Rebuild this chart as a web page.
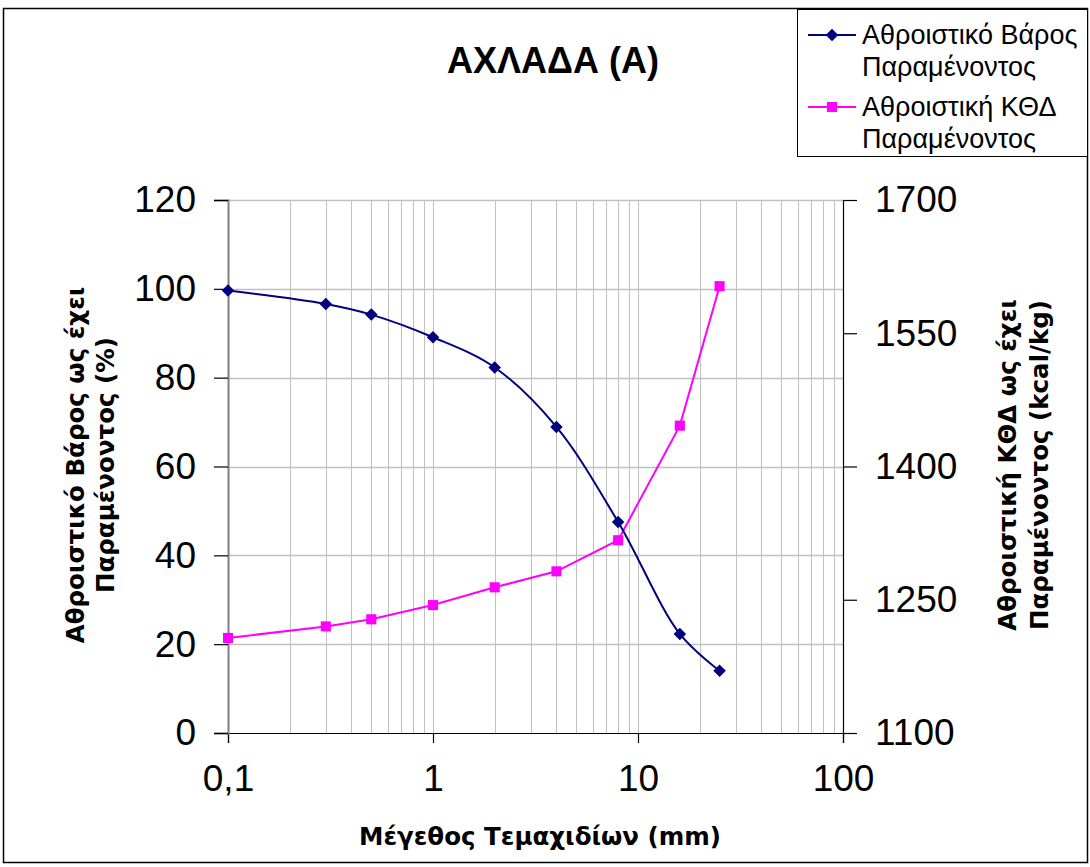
<!DOCTYPE html>
<html>
  <head>
    <meta charset="utf-8" />
    <title>ΑΧΛΑΔΑ (Α)</title>
    <style>
      body {
        margin: 0;
        background: #fff;
      }
      svg {
        display: block;
        font-family: Arial, "Liberation Sans", sans-serif;
      }
      .axis-title {
        font-family: "DejaVu Sans", Verdana, sans-serif;
        font-weight: bold;
        font-size: 24.5px;
      }
    </style>
  </head>

  <body>
    <svg id="chart"></svg>

    <script src="https://cdn.jsdelivr.net/npm/d3@7"></script>
    <script>
      // data
      const sizes = [0.1, 0.3, 0.5, 1, 2, 4, 8, 16, 25];
      const weight = [99.6, 96.6, 94.2, 89.1, 82.3, 68.9, 47.5, 22.3, 14.0];
      const heat = [1207, 1220, 1228, 1244, 1264, 1282, 1317, 1446, 1603];
      const xTicks = [0.1, 1, 10, 100];
      const xTickLabels = ["0,1", "1", "10", "100"];
      const leftTicks = [0, 20, 40, 60, 80, 100, 120];
      const rightTicks = [1100, 1250, 1400, 1550, 1700];
      const seriesNames = [
        ["Αθροιστικό Βάρος", "Παραμένοντος"],
        ["Αθροιστική ΚΘΔ", "Παραμένοντος"],
      ];

      const width = 1090;
      const height = 867;
      const blue = "#000080";
      const pink = "#ff00ff";
      const grid = "#c0c0c0";

      const plot = { left: 228, right: 843, top: 200, bottom: 733 };

      const svg = d3
        .select("#chart")
        .attr("width", width)
        .attr("height", height);

      svg
        .append("rect")
        .attr("x", 3.5)
        .attr("y", 8.5)
        .attr("width", 1084)
        .attr("height", 854)
        .attr("fill", "#fff")
        .attr("stroke", "#000")
        .attr("stroke-width", 1.5);

      const x = d3
        .scaleLog()
        .domain([0.1, 100])
        .range([plot.left, plot.right]);
      const yL = d3
        .scaleLinear()
        .domain([0, 120])
        .range([plot.bottom, plot.top]);
      const yR = d3
        .scaleLinear()
        .domain([1100, 1700])
        .range([plot.bottom, plot.top]);

      // minor + major vertical gridlines
      const vLines = [];
      for (let d = 0.1; d < 100; d *= 10) {
        for (let k = 1; k <= 10; k++) vLines.push(+(d * k).toPrecision(3));
      }
      svg
        .append("g")
        .selectAll("line")
        .data(vLines.filter((v) => v > 0.1 && v < 100))
        .join("line")
        .attr("x1", (d) => Math.round(x(d)) + 0.5)
        .attr("x2", (d) => Math.round(x(d)) + 0.5)
        .attr("y1", plot.top)
        .attr("y2", plot.bottom)
        .attr("stroke", grid)
        .attr("stroke-width", 1);

      svg
        .append("g")
        .selectAll("line")
        .data(leftTicks.filter((v) => v > 0))
        .join("line")
        .attr("x1", plot.left)
        .attr("x2", plot.right)
        .attr("y1", (d) => Math.round(yL(d)) + 0.5)
        .attr("y2", (d) => Math.round(yL(d)) + 0.5)
        .attr("stroke", grid)
        .attr("stroke-width", 1.5);

      // axes
      const axisLeft = d3
        .axisLeft(yL)
        .tickValues(leftTicks)
        .tickSize(14)
        .tickPadding(18)
        .tickFormat(d3.format("d"));
      const axisRight = d3
        .axisRight(yR)
        .tickValues(rightTicks)
        .tickSize(14)
        .tickPadding(18)
        .tickFormat(d3.format("d"));
      const axisBottom = d3
        .axisBottom(x)
        .tickValues(xTicks)
        .tickSize(10)
        .tickPadding(22)
        .tickFormat((d, i) => xTickLabels[i]);

      function styleAxis(g) {
        g.select(".domain").attr("stroke", "#808080").attr("stroke-width", 2);
        g.selectAll(".tick line").attr("stroke", "#000").attr("stroke-width", 1.2);
        g.selectAll(".tick text")
          .attr("fill", "#000")
          .attr("font-size", 37)
          .attr("font-family", "Arial, 'Liberation Sans', sans-serif");
      }

      svg
        .append("g")
        .attr("transform", `translate(0,${plot.bottom})`)
        .call(axisBottom)
        .call(styleAxis)
        .call((g) => g.select(".domain").attr("stroke", "#000").attr("stroke-width", 1.2));
      svg
        .append("g")
        .attr("transform", `translate(${plot.left},0)`)
        .call(axisLeft)
        .call(styleAxis);
      svg
        .append("g")
        .attr("transform", `translate(${plot.right},0)`)
        .call(axisRight)
        .call(styleAxis)
        .call((g) => g.select(".domain").attr("stroke", "#000").attr("stroke-width", 1.2));

      // series
      const weightLine = d3
        .line()
        .x((d, i) => x(sizes[i]))
        .y((d) => yL(d))
        .curve(d3.curveCatmullRom);
      const heatLine = d3
        .line()
        .x((d, i) => x(sizes[i]))
        .y((d) => yR(d));

      svg
        .append("path")
        .attr("d", heatLine(heat))
        .attr("fill", "none")
        .attr("stroke", pink)
        .attr("stroke-width", 2);
      svg
        .append("path")
        .attr("d", weightLine(weight))
        .attr("fill", "none")
        .attr("stroke", blue)
        .attr("stroke-width", 2);

      const diamond = d3.symbol().type(d3.symbolDiamond2).size(100);
      const square = d3.symbol().type(d3.symbolSquare2).size(130);

      svg
        .append("g")
        .selectAll("path")
        .data(weight)
        .join("path")
        .attr("transform", (d, i) => `translate(${x(sizes[i])},${yL(d)})`)
        .attr("d", diamond)
        .attr("fill", blue);
      svg
        .append("g")
        .selectAll("path")
        .data(heat)
        .join("path")
        .attr("transform", (d, i) => `translate(${x(sizes[i])},${yR(d)})`)
        .attr("d", square)
        .attr("fill", pink);

      // titles
      svg
        .append("text")
        .attr("x", 553)
        .attr("y", 73)
        .attr("text-anchor", "middle")
        .attr("font-size", 36)
        .attr("font-weight", "bold")
        .text("ΑΧΛΑΔΑ (Α)");

      svg
        .append("text")
        .attr("class", "axis-title")
        .attr("x", 540)
        .attr("y", 845)
        .attr("text-anchor", "middle")
        .text("Μέγεθος Τεμαχιδίων (mm)");

      const leftTitle = svg
        .append("text")
        .attr("class", "axis-title")
        .attr("transform", "translate(75,465) rotate(-90)")
        .attr("text-anchor", "middle");
      leftTitle.append("tspan").attr("x", 0).attr("dy", 9).text("Αθροιστικό Βάρος ως έχει");
      leftTitle.append("tspan").attr("x", 0).attr("dy", 30).text("Παραμένοντος (%)");

      const rightTitle = svg
        .append("text")
        .attr("class", "axis-title")
        .attr("transform", "translate(1007,465) rotate(-90)")
        .attr("text-anchor", "middle");
      rightTitle.append("tspan").attr("x", 0).attr("dy", 9).text("Αθροιστική ΚΘΔ ως έχει");
      rightTitle.append("tspan").attr("x", 0).attr("dy", 32).text("Παραμένοντος (kcal/kg)");

      // legend
      const legend = svg.append("g");
      legend
        .append("rect")
        .attr("x", 797.5)
        .attr("y", 9.5)
        .attr("width", 290)
        .attr("height", 147)
        .attr("fill", "#fff")
        .attr("stroke", "#000")
        .attr("stroke-width", 1);

      const items = legend
        .selectAll("g.item")
        .data(seriesNames)
        .join("g")
        .attr("class", "item")
        .attr("transform", (d, i) => `translate(0,${35 + i * 72})`);
      items
        .append("line")
        .attr("x1", 808)
        .attr("x2", 856)
        .attr("stroke", (d, i) => (i ? pink : blue))
        .attr("stroke-width", 2);
      items
        .append("path")
        .attr("transform", "translate(832,0)")
        .attr("d", (d, i) => (i ? square(null) : diamond(null)))
        .attr("fill", (d, i) => (i ? pink : blue));
      const itemText = items
        .append("text")
        .attr("font-size", 27)
        .attr("fill", "#000");
      itemText
        .append("tspan")
        .attr("x", 862)
        .attr("dy", 9)
        .text((d) => d[0]);
      itemText
        .append("tspan")
        .attr("x", 862)
        .attr("dy", 32)
        .text((d) => d[1]);
    </script>
  </body>
</html>
